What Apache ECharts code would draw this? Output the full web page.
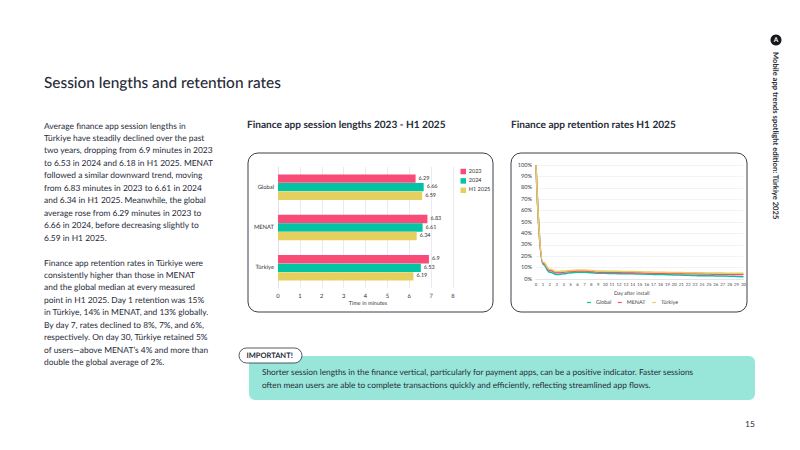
<!DOCTYPE html>
<html>
<head>
<meta charset="utf-8">
<style>html,body{margin:0;padding:0;background:#fff}#c{width:800px;height:450px}#c text{text-rendering:geometricPrecision}</style>
<script src="https://cdn.jsdelivr.net/npm/echarts@6/dist/echarts.min.js"></script>
</head>
<body>
<div id="c"></div>
<script>
// Session lengths, in minutes
const regions = ['Global', 'MENAT', 'Türkiye'];
const session2023 = [6.29, 6.83, 6.9];
const session2024 = [6.66, 6.61, 6.53];
const sessionH12025 = [6.59, 6.34, 6.19];

// Retention by day after install, in percent
const days = ['0','1','2','3','4','5','6','7','8','9','10','11','12','13','14','15','16','17','18','19','20','21','22','23','24','25','26','27','28','29','30'];
const retentionGlobal = [100,13,6,4,4.5,5.5,6,6,5.5,5,5,4.8,4.7,4.6,4.5,4.4,4.2,4,4,3.8,3.6,3.4,3.2,3,2.9,2.8,2.7,2.6,2.5,2.3,2];
const retentionMenat = [100,14,7.5,5.5,6,6.5,7,7,6.5,6,6,5.9,5.8,5.6,5.5,5.4,5.2,5,5,4.9,4.8,4.7,4.6,4.5,4.4,4.3,4.2,4.2,4.1,4,4];
const retentionTurkiye = [100,15,8.5,6.5,7,7.5,8,8,7.5,7,7,6.8,6.7,6.6,6.5,6.3,6.1,6,6,5.8,5.7,5.6,5.5,5.5,5.4,5.3,5.2,5.2,5.1,5,5];

// Copy blocks
const pageTitle = 'Session lengths and retention rates';
const barTitle = 'Finance app session lengths 2023 - H1 2025';
const lineTitle = 'Finance app retention rates H1 2025';
const sideLabel = 'Mobile app trends spotlight edition: Türkiye 2025';
const badgeLabel = 'IMPORTANT!';
const pageNumber = '15';
const bodyFirst = [
  'Average finance app session lengths in',
  'Türkiye have steadily declined over the past',
  'two years, dropping from 6.9 minutes in 2023',
  'to 6.53 in 2024 and 6.18 in H1 2025. MENAT',
  'followed a similar downward trend, moving',
  'from 6.83 minutes in 2023 to 6.61 in 2024',
  'and 6.34 in H1 2025. Meanwhile, the global',
  'average rose from 6.29 minutes in 2023 to',
  '6.66 in 2024, before decreasing slightly to',
  '6.59 in H1 2025.'
];
const bodySecond = [
  'Finance app retention rates in Türkiye were',
  'consistently higher than those in MENAT',
  'and the global median at every measured',
  'point in H1 2025. Day 1 retention was 15%',
  'in Türkiye, 14% in MENAT, and 13% globally.',
  'By day 7, rates declined to 8%, 7%, and 6%,',
  'respectively. On day 30, Türkiye retained 5%',
  'of users—above MENAT\u2019s 4% and more than',
  'double the global average of 2%.'
];
const noteLines = [
  'Shorter session lengths in the finance vertical, particularly for payment apps, can be a positive indicator. Faster sessions',
  'often mean users are able to complete transactions quickly and efficiently, reflecting streamlined app flows.'
];

const FONT = 'Lato, "Noto Sans", sans-serif';
const INK = '#272b39';
const PINK = '#f94b78', TEAL = '#02c4a4', YELLOW = '#e5cf5f';

const txt = (x, y, text, size, extra) => ({
  type: 'text', x, y, silent: true,
  style: Object.assign({ text, fontFamily: FONT, fontSize: size, fill: INK, textVerticalAlign: 'middle' }, extra || {})
});
const panel = (x, y, w, h) => ({
  type: 'rect', z: -1, shape: { x, y, width: w, height: h, r: 10 },
  style: { fill: '#fff', stroke: '#3a3f4b', lineWidth: 1 }
});
const block = (lines, x, top, step, size) => lines.map((l, i) => txt(x, top + i * step, l, size));

const barLabel = { show: true, position: 'right', distance: 3, fontFamily: FONT, fontSize: 5.5, color: '#333' };
const barSeries = (name, data, color) => ({
  name, type: 'bar', data, xAxisIndex: 0, yAxisIndex: 0, barWidth: 8.4, barGap: '2%',
  itemStyle: { color }, label: barLabel
});
const lineSeries = (name, data, color) => ({
  name, type: 'line', data, xAxisIndex: 1, yAxisIndex: 1, smooth: 0.5, smoothMonotone: 'x', showSymbol: false,
  lineStyle: { color, width: 1.5 }, itemStyle: { color }
});
const legendSwatch = (name, color) => ({ name, itemStyle: { color, borderColor: color, borderWidth: 4.5 } });

const chart = echarts.init(document.getElementById('c'), null, { renderer: 'svg' });
chart.setOption({
  animation: false,
  backgroundColor: '#fff',
  textStyle: { fontFamily: FONT },
  graphic: [
    txt(44, 83, pageTitle, 15.4, { fontWeight: 500 }),
    ...block(bodyFirst, 44, 125.5, 12.45, 8.43),
    ...block(bodySecond, 44, 262.5, 12.45, 8.43),
    txt(247, 124.5, barTitle, 10.1, { fontWeight: 700 }),
    txt(511, 124.5, lineTitle, 10.1, { fontWeight: 700 }),
    panel(248, 153, 245, 159),
    panel(511, 153, 236, 159),
    { type: 'rect', shape: { x: 249, y: 356, width: 506, height: 44, r: 6 }, style: { fill: '#98e6da' } },
    { type: 'rect', shape: { x: 239, y: 348, width: 63, height: 15, r: 7.5 }, style: { fill: '#fff', stroke: '#2b3040', lineWidth: 0.8 } },
    txt(246.5, 355.5, badgeLabel, 7.5, { fontWeight: 700 }),
    ...block(noteLines, 262, 372, 12.6, 8.3),
    txt(745, 424, pageNumber, 8.5),
    { type: 'circle', shape: { cx: 776, cy: 40, r: 5.5 }, style: { fill: '#15171c' } },
    txt(773.8, 40, 'A', 6.5, { fill: '#fff', fontWeight: 700 }),
    { type: 'text', x: 776, y: 52, rotation: -Math.PI / 2, silent: true,
      style: { text: sideLabel, fontFamily: FONT, fontSize: 7.65, fontWeight: 700, fill: INK, textAlign: 'left', textVerticalAlign: 'middle' } }
  ],
  legend: [
    { data: [legendSwatch('2023', PINK), legendSwatch('2024', TEAL), legendSwatch('H1 2025', YELLOW)],
      left: 460.5, top: 168.5, padding: 0, orient: 'vertical', itemWidth: 1, itemHeight: 1, itemGap: 3.4, icon: 'rect',
      textStyle: { fontFamily: FONT, fontSize: 5.5, color: '#333' } },
    { data: ['Global', 'MENAT', 'Türkiye'], left: 587, top: 300, padding: 0, orient: 'horizontal', itemWidth: 4, itemHeight: 1.2, itemGap: 6.5, icon: 'rect',
      textStyle: { fontFamily: FONT, fontSize: 5.4, color: '#444' } }
  ],
  grid: [
    { left: 278, top: 167, width: 175, height: 121, containLabel: false },
    { left: 536, top: 165, width: 207.5, height: 114, containLabel: false }
  ],
  xAxis: [
    { type: 'value', gridIndex: 0, min: 0, max: 8, interval: 1,
      name: 'Time in minutes', nameLocation: 'middle', nameGap: 13,
      nameTextStyle: { fontFamily: FONT, fontSize: 5.5, color: '#333', padding: [0, 0, 0, 5] },
      axisLine: { show: false }, axisTick: { show: false },
      axisLabel: { fontFamily: FONT, fontSize: 5.8, color: '#333', margin: 5 },
      splitLine: { show: true, lineStyle: { color: '#e4e4ee', width: 0.8 } } },
    { type: 'category', gridIndex: 1, data: days, boundaryGap: false,
      name: 'Day after install', nameLocation: 'middle', nameGap: 12,
      nameTextStyle: { fontFamily: FONT, fontSize: 5.2, color: '#444', padding: [0, 16, 0, 0] },
      axisLine: { show: true, lineStyle: { color: '#dfdfea', width: 0.8 } }, axisTick: { show: false },
      axisLabel: { interval: 0, fontFamily: FONT, fontSize: 4.3, color: '#444', margin: 3 },
      splitLine: { show: false } }
  ],
  yAxis: [
    { type: 'category', gridIndex: 0, data: regions, inverse: true,
      axisLine: { show: true, lineStyle: { color: '#dddde6', width: 0.8 } }, axisTick: { show: false },
      axisLabel: { fontFamily: FONT, fontSize: 5.8, color: '#333', margin: 4 } },
    { type: 'value', gridIndex: 1, min: 0, max: 100, interval: 10,
      axisLine: { show: false }, axisTick: { show: false },
      axisLabel: { formatter: '{value}%', fontFamily: FONT, fontSize: 5.6, color: '#444', margin: 4 },
      splitLine: { show: true, lineStyle: { color: '#f0f0f3', width: 0.8 } } }
  ],
  series: [
    barSeries('2023', session2023, PINK),
    barSeries('2024', session2024, TEAL),
    barSeries('H1 2025', sessionH12025, YELLOW),
    lineSeries('Global', retentionGlobal, TEAL),
    lineSeries('MENAT', retentionMenat, PINK),
    lineSeries('Türkiye', retentionTurkiye, YELLOW)
  ]
});
</script>
</body>
</html>
